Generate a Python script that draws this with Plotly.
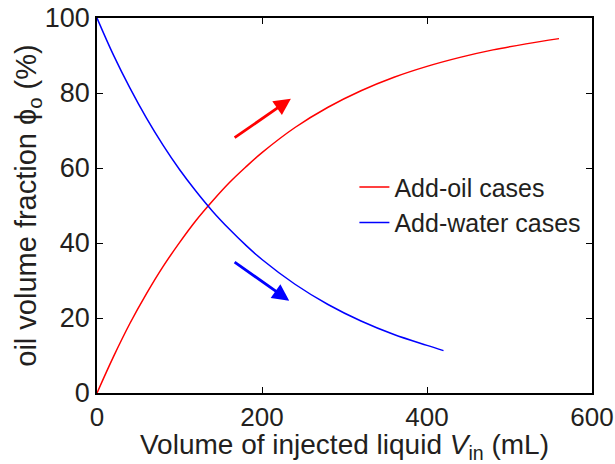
import plotly.graph_objects as go

# Add-oil cases
oil_v = [0, 20, 40, 60, 80, 100, 120, 140, 160, 180, 200, 240, 280, 320, 360, 400, 440, 480, 520, 560]
oil_phi = [0, 9.7, 18.6, 26.5, 33.7, 40.1, 46.0, 51.2, 56.0, 60.2, 64.1, 70.8, 76.2, 80.6, 84.2, 87.1, 89.5, 91.5, 93.1, 94.5]
# Add-water cases
water_v = [0, 20, 40, 60, 80, 100, 120, 140, 160, 180, 200, 240, 280, 320, 360, 400, 420]
water_phi = [100, 90.1, 81.3, 73.3, 66.1, 59.6, 53.8, 48.5, 43.8, 39.5, 35.6, 29.0, 23.6, 19.2, 15.6, 12.7, 11.3]

# arrows: (tail_x, tail_y, head_x, head_y)
red_arrow = (165, 67.8, 235, 78.5)
blue_arrow = (165, 35.2, 233, 24.6)

txt = "#231F20"
font = "Liberation Sans, Arial, sans-serif"

fig = go.Figure()
fig.add_trace(go.Scatter(x=oil_v, y=oil_phi, mode="lines", name="Add-oil cases",
                         line=dict(color="#FF0000", width=1.5, shape="spline")))
fig.add_trace(go.Scatter(x=water_v, y=water_phi, mode="lines", name="Add-water cases",
                         line=dict(color="#0000FF", width=1.5, shape="spline")))

for arr, col in [(red_arrow, "#FF0000"), (blue_arrow, "#0000FF")]:
    fig.add_annotation(x=arr[2], y=arr[3], ax=arr[0], ay=arr[1], xref="x", yref="y",
                       axref="x", ayref="y", showarrow=True, arrowhead=2, arrowsize=1.2,
                       arrowwidth=2.8, arrowcolor=col, text="")

fig.update_layout(
    width=615, height=464,
    margin=dict(l=97, r=23, t=18, b=71),
    plot_bgcolor="white", paper_bgcolor="white",
    font=dict(family=font, size=26, color=txt),
    showlegend=True,
    legend=dict(x=0.52, y=0.61, xanchor="left", yanchor="top", bgcolor="rgba(0,0,0,0)",
                font=dict(size=25, color=txt), tracegroupgap=0, itemwidth=30),
    xaxis=dict(range=[0, 600], tickvals=[0, 200, 400, 600], ticks="inside", ticklen=6,
               tickwidth=1, tickcolor="black", showline=True, linecolor="black", linewidth=1.5,
               mirror="ticks", showgrid=False, zeroline=False, automargin=False,
               tickfont=dict(size=26),
               title=dict(text="Volume of injected liquid <i>V</i><sub>in</sub> (mL)", standoff=6,
                          font=dict(size=28))),
    yaxis=dict(range=[0, 100], tickvals=[0, 20, 40, 60, 80, 100], ticks="inside", ticklen=6,
               tickwidth=1, tickcolor="black", showline=True, linecolor="black", linewidth=1.5,
               mirror="ticks", showgrid=False, zeroline=False, automargin=False,
               tickfont=dict(size=27),
               title=dict(text="oil volume fraction \u03d5<sub>o</sub> (%)", standoff=0,
                          font=dict(size=29))),
)

fig.write_html("out.html")
